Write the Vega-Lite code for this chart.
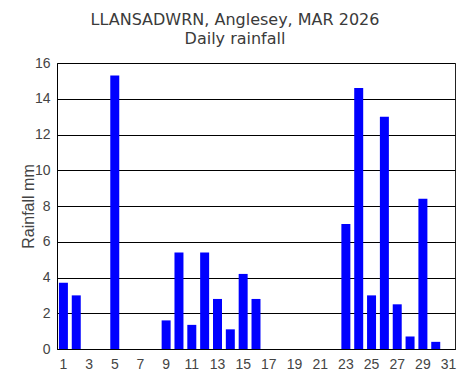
{
  "$schema": "https://vega.github.io/schema/vega-lite/v6.json",
  "width": 398,
  "height": 286,
  "autosize": {"type": "none"},
  "padding": {"left": 57, "top": 63, "right": 16, "bottom": 29},
  "background": "white",
  "title": {
    "text": ["LLANSADWRN, Anglesey, MAR 2026", "Daily rainfall"],
    "font": "DejaVu Sans",
    "fontSize": 16,
    "fontWeight": "normal",
    "color": "#3a3a3a",
    "lineHeight": 19,
    "anchor": "middle",
    "frame": "group",
    "dx": -21,
    "offset": 9
  },
  "config": {
    "view": {"stroke": "#222", "strokeWidth": 1},
    "axis": {
      "labelFont": "Liberation Sans",
      "titleFont": "Liberation Sans",
      "labelColor": "#444",
      "titleColor": "#444",
      "domainColor": "#000",
      "gridColor": "#000",
      "gridOpacity": 1,
      "ticks": false
    }
  },
  "data": {
    "values": [
      {"day": 1, "rain": 3.7}, {"day": 2, "rain": 3.0}, {"day": 3, "rain": 0},
      {"day": 4, "rain": 0}, {"day": 5, "rain": 15.3}, {"day": 6, "rain": 0},
      {"day": 7, "rain": 0}, {"day": 8, "rain": 0}, {"day": 9, "rain": 1.6},
      {"day": 10, "rain": 5.4}, {"day": 11, "rain": 1.35}, {"day": 12, "rain": 5.4},
      {"day": 13, "rain": 2.8}, {"day": 14, "rain": 1.1}, {"day": 15, "rain": 4.2},
      {"day": 16, "rain": 2.8}, {"day": 17, "rain": 0}, {"day": 18, "rain": 0},
      {"day": 19, "rain": 0}, {"day": 20, "rain": 0}, {"day": 21, "rain": 0},
      {"day": 22, "rain": 0}, {"day": 23, "rain": 7.0}, {"day": 24, "rain": 14.6},
      {"day": 25, "rain": 3.0}, {"day": 26, "rain": 13.0}, {"day": 27, "rain": 2.5},
      {"day": 28, "rain": 0.7}, {"day": 29, "rain": 8.4}, {"day": 30, "rain": 0.4},
      {"day": 31, "rain": 0}
    ]
  },
  "mark": {"type": "bar", "color": "#0000ff"},
  "encoding": {
    "x": {
      "field": "day",
      "type": "ordinal",
      "scale": {"paddingInner": 0.3, "paddingOuter": 0.15},
      "axis": {
        "title": null,
        "labelAngle": 0,
        "labelFontSize": 14,
        "labelPadding": 8,
        "grid": false,
        "labelExpr": "datum.value % 2 == 1 ? datum.label : ''"
      }
    },
    "y": {
      "field": "rain",
      "type": "quantitative",
      "scale": {"domain": [0, 16], "nice": false},
      "axis": {
        "title": "Rainfall mm",
        "titleFontSize": 16,
        "titleFontWeight": "normal",
        "titlePadding": -2,
        "labelFontSize": 14,
        "labelPadding": 7,
        "values": [0, 2, 4, 6, 8, 10, 12, 14, 16],
        "grid": true
      }
    }
  }
}
